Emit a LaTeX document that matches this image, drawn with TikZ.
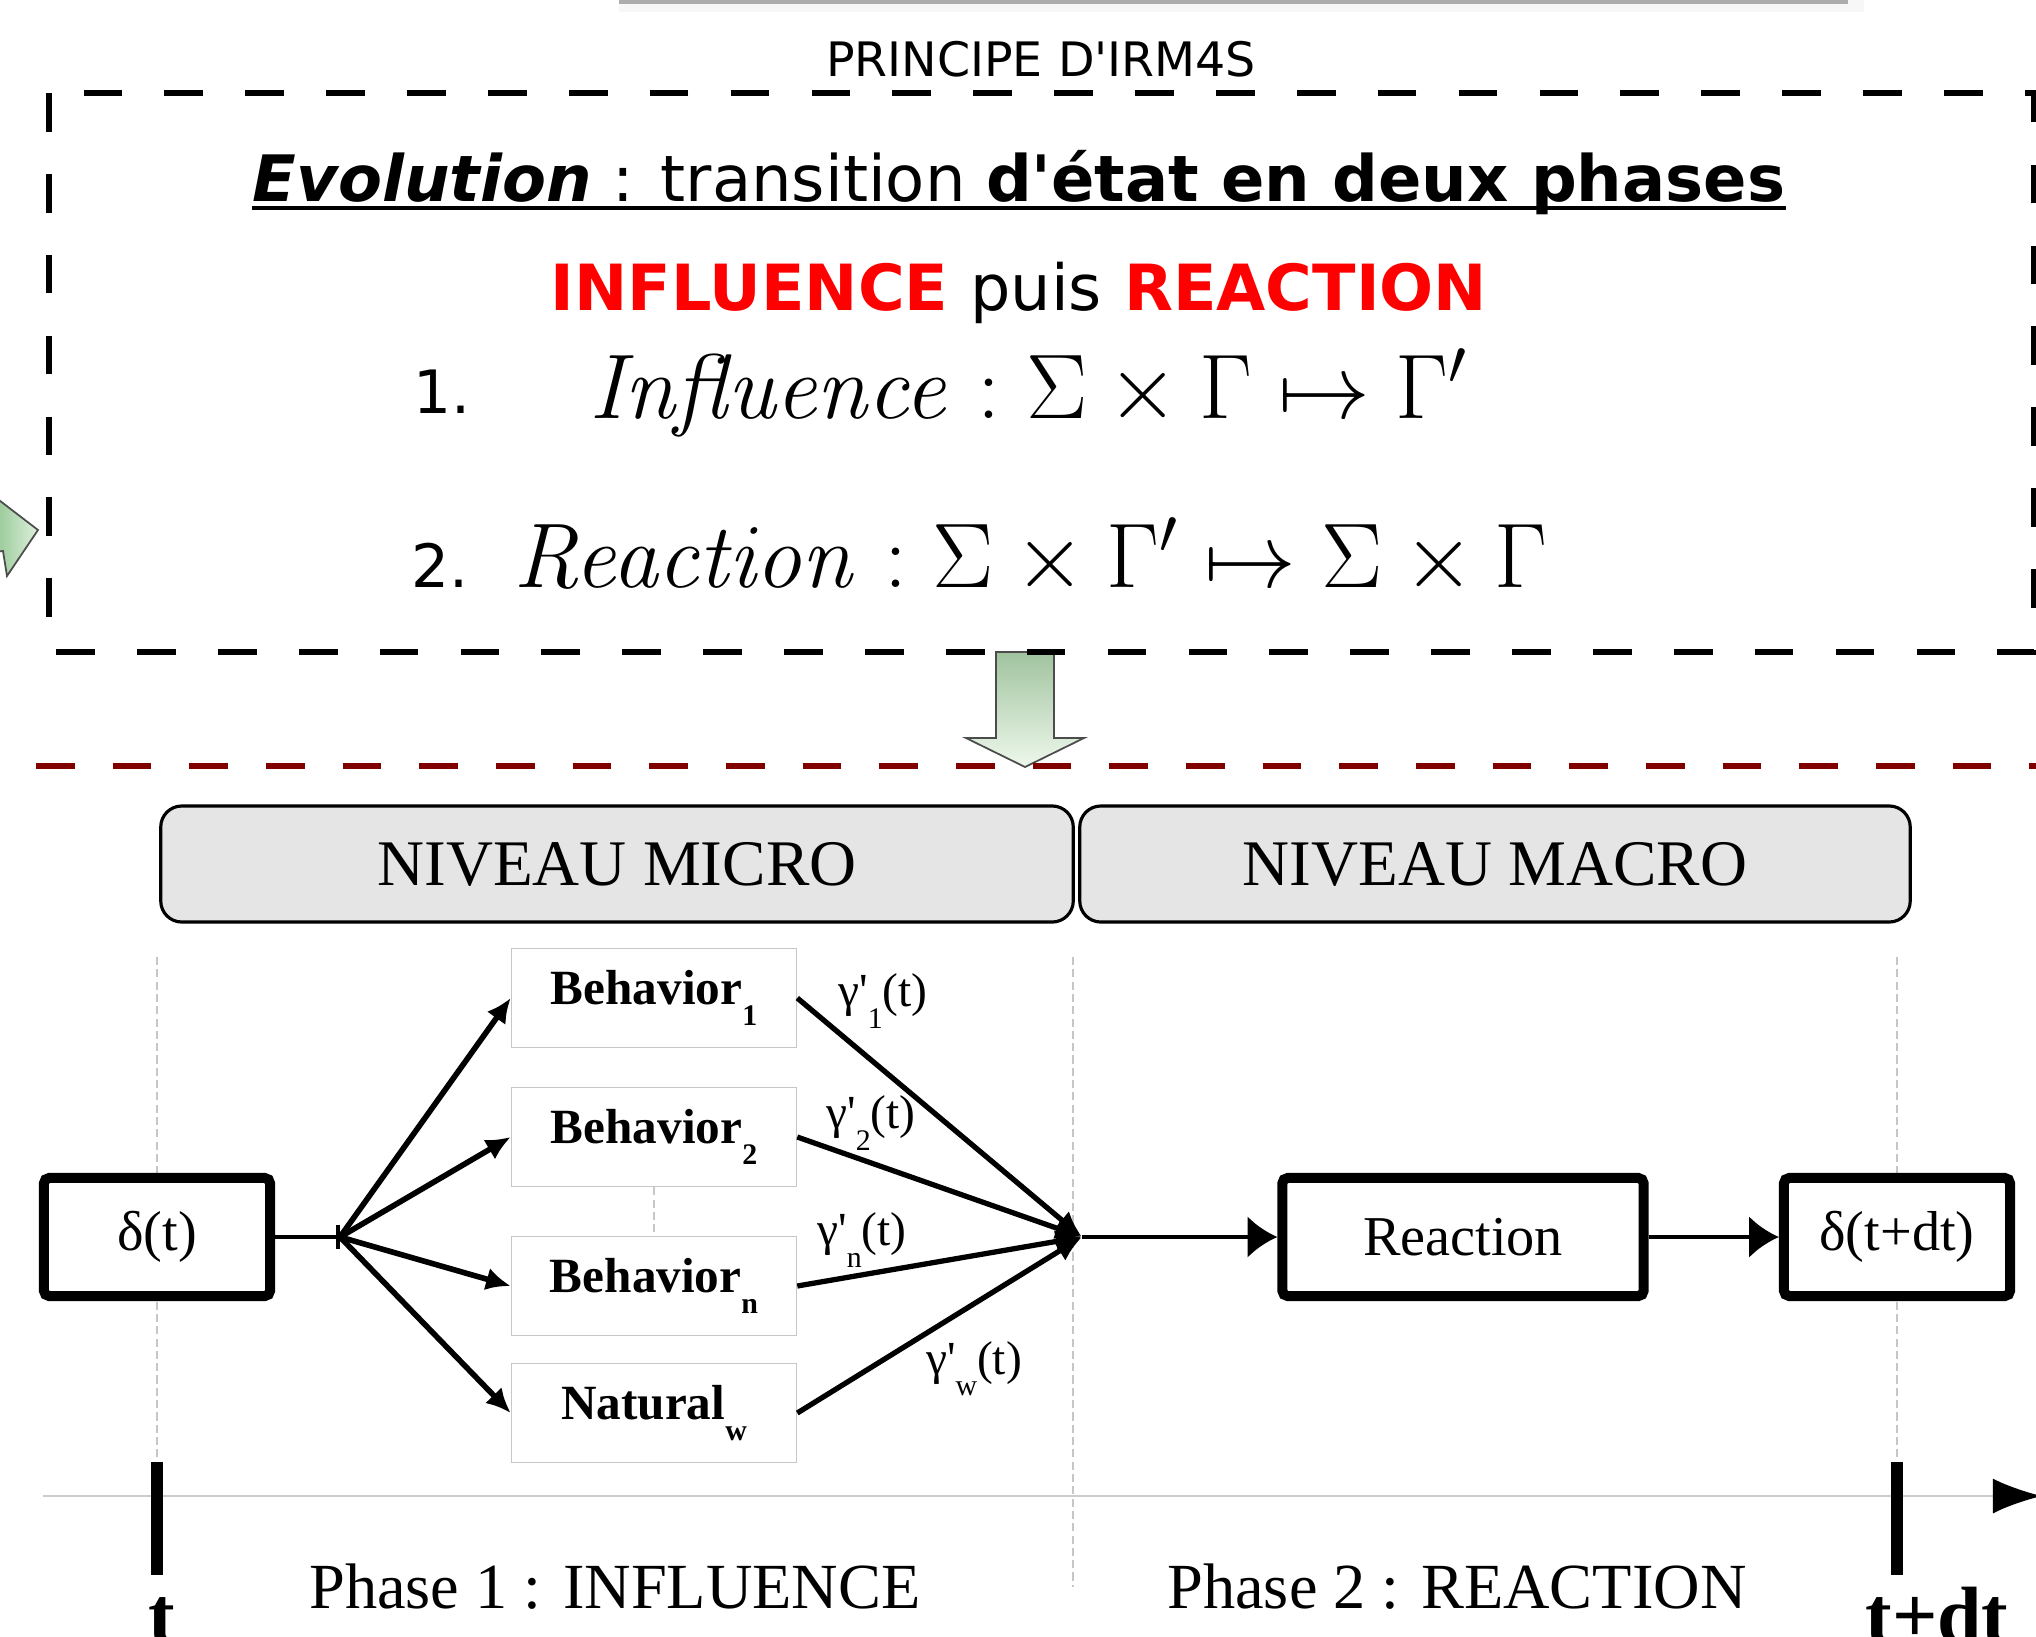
\RequirePackage{fix-cm}
\documentclass[tikz,border=0pt]{standalone}
\usepackage[no-math]{fontspec}
\setmainfont{Liberation Serif}
\newfontfamily\dejavu{DejaVu Sans}
\usetikzlibrary{arrows.meta,calc}
\definecolor{levelgray}{HTML}{E5E5E5}
\definecolor{darkred}{RGB}{128,0,0}
\newcommand{\lowsub}[1]{\raisebox{-6pt}{\fontsize{8.5}{9}\selectfont #1}}

\begin{document}
\begin{tikzpicture}[x=0.01cm, y=-0.01cm,
    statenode/.style={rectangle, draw=black, line width=2.85pt, rounded corners=1.5pt, fill=white, minimum height=1.18cm, font=\fontsize{16}{18}\selectfont},
    behavnode/.style={rectangle, draw=black!22, line width=0.4pt, fill=white, minimum width=2.85cm, minimum height=0.99cm, font=\bfseries\fontsize{14}{16}\selectfont},
    levelnode/.style={rectangle, rounded corners=6pt, draw=black, line width=0.9pt, fill=levelgray, minimum height=1.16cm, font=\fontsize{18.5}{20}\selectfont}
    ]
    \tikzset{guide/.style={gray!45, line width=0.5pt, dash pattern=on 2.3pt off 1.2pt}}
    \tikzset{edge/.style={line width=1.6pt, -{Latex[length=7pt,width=6.5pt]}}}
    \tikzset{mergeedge/.style={line width=1.5pt, -{Latex[length=7.5pt,width=6.5pt]}}}
    \tikzset{bigedge/.style={line width=1.4pt, -{Latex[length=8.5pt,width=12pt]}}}
    \tikzset{greenarrow/.style={draw=black!70, line width=0.5pt, top color={rgb,255:red,160;green,195;blue,158}, bottom color={rgb,255:red,238;green,248;blue,236}}}
    \useasboundingbox (0,0) rectangle (2036,1636);
    %
    %top part
    %
    \fill[gray!6] (619,0) rectangle (1864,12);
    \draw[gray!65, line width=1.2pt] (619,2) -- (1848,2);
    \node[font=\dejavu\fontsize{13.5}{16}\selectfont] (titre) at (1041,59) {PRINCIPE D\textquotesingle IRM4S};
    \draw[greenarrow, left color={rgb,255:red,150;green,200;blue,150}, right color={rgb,255:red,222;green,240;blue,220}] (-5,497) -- (38,530) -- (7,576) -- (3,551) -- (-5,552) -- cycle;
    \draw[greenarrow] (996,652) -- (1054,652) -- (1054,738) -- (1084,738) -- (1025,767) -- (966,738) -- (996,738) -- cycle;
    \draw[line width=1.9pt, dash pattern=on 11pt off 12pt] (49,93) rectangle (2034,652);
    \draw[darkred, line width=1.9pt, dash pattern=on 11pt off 10.8pt] (36,766) -- (2036,766);
    \node[anchor=base, inner sep=0pt, font=\dejavu\fontsize{18.2}{22}\selectfont] (evo) at (1019,201) {\textbf{\textit{Evolution}} : transition \textbf{d\textquotesingle état en deux phases}};
    \draw[line width=1.2pt] ([yshift=-2pt]evo.base west) -- ([yshift=-2pt]evo.base east);
    \node[anchor=base, inner sep=0pt, font=\dejavu\bfseries\fontsize{18.1}{22}\selectfont, text=red] (infreac) at (1019,310) {INFLUENCE \textmd{\color{black}puis} REACTION};
    \node[anchor=base west, inner sep=0pt, font=\dejavu\fontsize{17}{20}\selectfont] (un) at (413,413) {1.};
    \node[anchor=base west, inner sep=0pt, font=\fontsize{26.1}{30}\selectfont] (infl) at (589,418) {$\mathit{Influence}:\Sigma\times\Gamma\mapsto\Gamma'$};
    \node[anchor=base west, inner sep=0pt, font=\dejavu\fontsize{17}{20}\selectfont] (deux) at (411,587) {2.};
    \node[anchor=base west, inner sep=0pt, font=\fontsize{26.1}{30}\selectfont] (reac) at (513,587) {$\mathit{Reaction}:\Sigma\times\Gamma'\mapsto\Sigma\times\Gamma$};
    %
    %levels
    %
    \node[levelnode, minimum width=9.12cm] (micro) at (617,864) {NIVEAU MICRO};
    \node[levelnode, minimum width=8.3cm] (macro) at (1495,864) {NIVEAU MACRO};
    \draw[guide] (157,957) -- (157,1462);
    \draw[guide] (1073,957) -- (1073,1587);
    \draw[guide] (1897,957) -- (1897,1462);
    %
    %vertices
    %
    \node[statenode, minimum width=2.26cm] (delta) at (157,1237) {δ(t)};
    \node[statenode, minimum width=3.61cm] (reaction) at (1463,1237) {Reaction};
    \node[statenode, minimum width=2.26cm] (deltadt) at (1897,1237) {δ(t+dt)};
    \node[behavnode] (b1) at (654,998) {Behavior\lowsub{1}};
    \node[behavnode] (b2) at (654,1137) {Behavior\lowsub{2}};
    \node[behavnode] (bn) at (654,1286) {Behavior\lowsub{n}};
    \node[behavnode] (nw) at (654,1413) {Natural\lowsub{w}};
    \coordinate (split) at (340,1237);
    \coordinate (merge) at (1082,1237);
    \draw[guide] (b2) -- (bn);
    %
    %edges
    %
    \draw[line width=1.4pt, -{Bar[width=7pt,line width=1.2pt]}] (delta) -- (split);
    \draw[edge] (split) -- (b1.west);
    \draw[edge] (split) -- (b2.west);
    \draw[edge] (split) -- (bn.west);
    \draw[edge] (split) -- (nw.west);
    \draw[mergeedge] (b1.east) -- (merge);
    \draw[mergeedge] (b2.east) -- (merge);
    \draw[mergeedge] (bn.east) -- (merge);
    \draw[mergeedge] (nw.east) -- (merge);
    \draw[bigedge] (merge) -- (reaction);
    \draw[bigedge] (reaction) -- (deltadt);
    \node[font=\fontsize{13.5}{16}\selectfont] (g1) at (883,1001) {γ\textquotesingle\lowsub{1}(t)};
    \node[font=\fontsize{13.5}{16}\selectfont] (g2) at (871,1123) {γ\textquotesingle\lowsub{2}(t)};
    \node[font=\fontsize{13.5}{16}\selectfont] (gn) at (862,1240) {γ\textquotesingle\lowsub{n}(t)};
    \node[font=\fontsize{13.5}{16}\selectfont] (gw) at (974,1369) {γ\textquotesingle\lowsub{w}(t)};
    %
    %time line
    %
    \coordinate (t0) at (43,1496);
    \coordinate (t1) at (2042,1496);
    \draw[gray!40, line width=0.8pt, -{Latex[length=14pt,width=10pt,color=black]}] (t0) -- (t1);
    \draw[line width=3.2pt] (157,1462) -- (157,1575);
    \draw[line width=3.2pt] (1897,1462) -- (1897,1575);
    \node[anchor=base, font=\bfseries\fontsize{22.7}{26}\selectfont] (tlab) at (162,1642) {t};
    \node[anchor=base, font=\bfseries\fontsize{22.7}{26}\selectfont] (tdtlab) at (1937,1642) {t+dt};
    \node[anchor=base, font=\fontsize{18.3}{22}\selectfont] (ph1) at (615,1608) {Phase 1 : INFLUENCE};
    \node[anchor=base, font=\fontsize{18.3}{22}\selectfont] (ph2) at (1457,1608) {Phase 2 : REACTION};
\end{tikzpicture}
\end{document}
